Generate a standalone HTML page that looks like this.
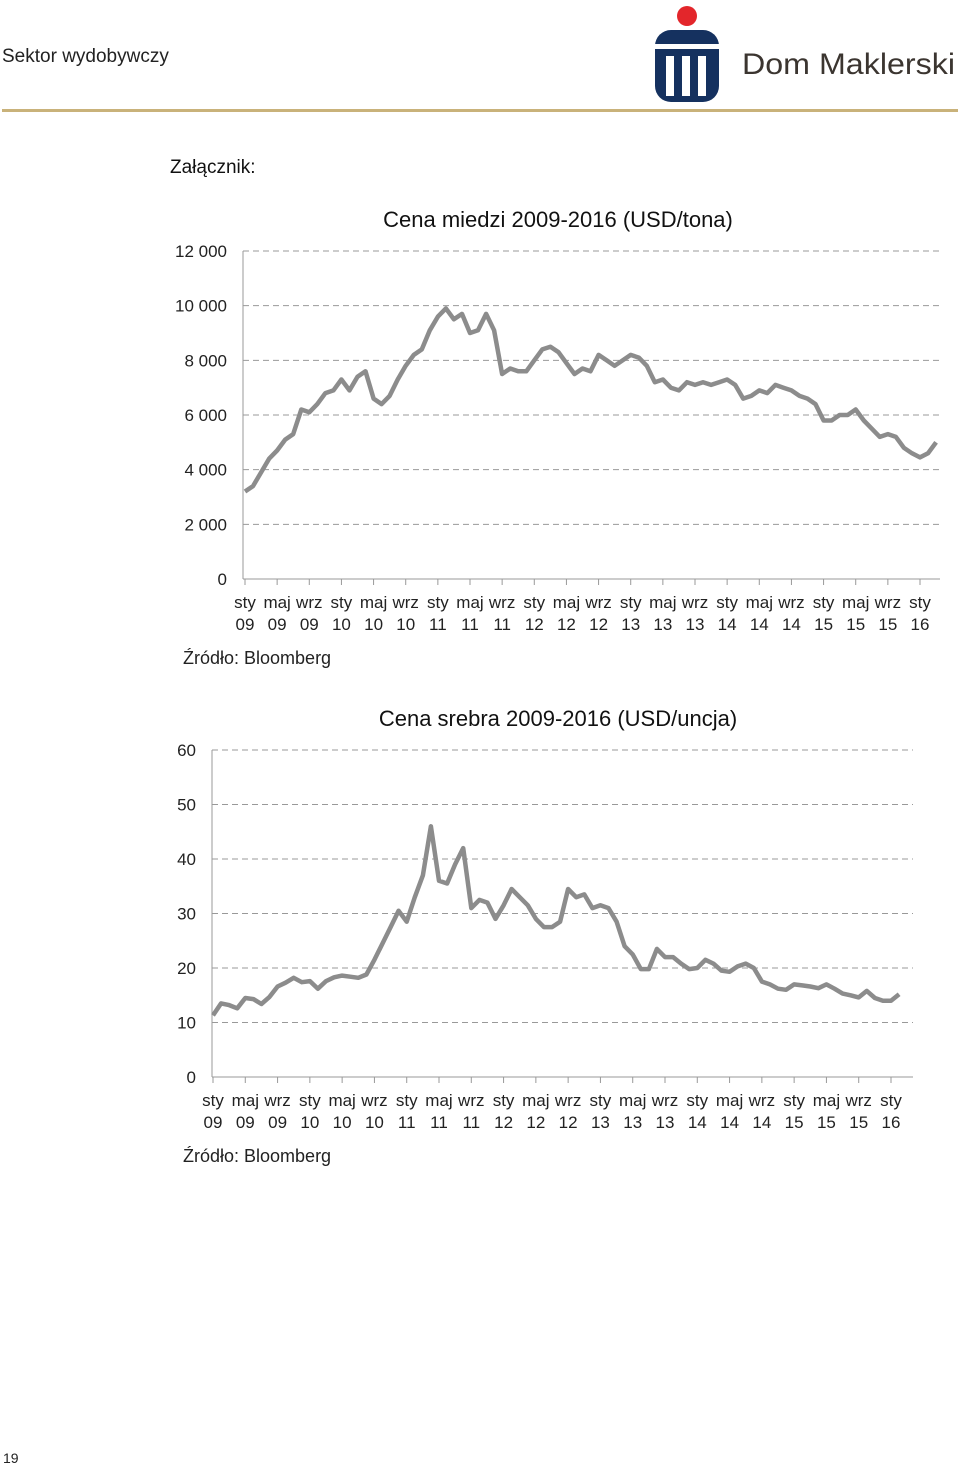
<!DOCTYPE html>
<html><head><meta charset="utf-8">
<style>
body{margin:0;background:#fff;font-family:"Liberation Sans",sans-serif;}
#page{position:relative;width:960px;height:1466px;overflow:hidden;background:#fff;}
svg text{font-family:"Liberation Sans",sans-serif;}
</style></head>
<body>
<div id="page">
<div style="position:absolute;left:2px;top:46px;font-size:19px;color:#222;">Sektor wydobywczy</div>
<svg style="position:absolute;left:640px;top:0" width="320" height="108">
 <circle cx="47" cy="16" r="10" fill="#e3262b"/>
 <rect x="15" y="30" width="64" height="72" rx="16" fill="#15315f"/>
 <rect x="15" y="44" width="64" height="5" fill="#fff"/>
 <rect x="26" y="56" width="8" height="40" fill="#fff"/>
 <rect x="42" y="56" width="8" height="40" fill="#fff"/>
 <rect x="58" y="56" width="8" height="40" fill="#fff"/>
 <text x="102" y="74" font-size="30" fill="#3b3530" textLength="213" lengthAdjust="spacingAndGlyphs">Dom Maklerski</text>
</svg>
<div style="position:absolute;left:2px;top:109px;width:956px;height:3px;background:#c9b27a;"></div>
<div style="position:absolute;left:170px;top:157px;font-size:19px;color:#111;">Załącznik:</div>
<svg id="c1" style="position:absolute;left:0;top:190px" width="960" height="490"></svg>
<svg id="c2" style="position:absolute;left:0;top:690px" width="960" height="490"></svg>
<div style="position:absolute;left:3px;top:1450px;font-size:14px;color:#222;">19</div>
</div>
<script>
const xMonthLabels=["sty","maj","wrz","sty","maj","wrz","sty","maj","wrz","sty","maj","wrz","sty","maj","wrz","sty","maj","wrz","sty","maj","wrz","sty"];
const xYearLabels=["09","09","09","10","10","10","11","11","11","12","12","12","13","13","13","14","14","14","15","15","15","16"];
const copperTicks=[0,2000,4000,6000,8000,10000,12000];
const copperTickLabels=["0","2 000","4 000","6 000","8 000","10 000","12 000"];
const copperValues=[3200,3400,3900,4400,4700,5100,5300,6200,6100,6400,6800,6900,
7300,6900,7400,7600,6600,6400,6700,7300,7800,8200,8400,9100,
9600,9900,9500,9700,9000,9100,9700,9100,7500,7700,7600,7600,
8000,8400,8500,8300,7900,7500,7700,7600,8200,8000,7800,8000,
8200,8100,7800,7200,7300,7000,6900,7200,7100,7200,7100,7200,
7300,7100,6600,6700,6900,6800,7100,7000,6900,6700,6600,6400,
5800,5800,6000,6000,6200,5800,5500,5200,5300,5200,4800,4600,
4450,4600,5000];
const silverTicks=[0,10,20,30,40,50,60];
const silverTickLabels=["0","10","20","30","40","50","60"];
const silverValues=[11.3,13.5,13.2,12.6,14.5,14.3,13.4,14.7,16.6,17.3,18.2,17.4,
17.6,16.2,17.6,18.3,18.6,18.4,18.2,18.8,21.5,24.5,27.5,30.5,
28.5,33,37,46,36,35.5,39,42,31,32.5,32,29,
31.5,34.5,33,31.5,29,27.5,27.5,28.5,34.5,33,33.5,31,
31.5,31,28.5,24,22.5,19.8,19.8,23.5,22,22,20.8,19.8,
20,21.5,20.8,19.5,19.3,20.3,20.8,20,17.5,17,16.2,16,
17,16.8,16.6,16.3,17,16.2,15.3,15,14.6,15.8,14.5,14,
14,15.2];
const NS='http://www.w3.org/2000/svg';
function mk(svg,tag,attrs,text){const e=document.createElementNS(NS,tag);for(const k in attrs)e.setAttribute(k,attrs[k]);if(text!==undefined)e.textContent=text;svg.appendChild(e);return e;}
function draw(svg,o){
 const x=m=>o.x0+m*(o.x1-o.x0)/84;
 const y=v=>o.y0-v*(o.y0-o.yTop)/o.vmax;
 let t=mk(svg,'text',{x:o.titleX,y:o.titleY,'font-size':22,fill:'#111','text-anchor':'middle'},o.title);
 
 o.ticks.forEach((v,i)=>{
  if(v>0){const g=mk(svg,'line',{x1:o.ax,x2:o.gx,y1:y(v),y2:y(v),stroke:'#999','stroke-dasharray':'6,4','stroke-width':1});
  }
  const l=mk(svg,'text',{x:o.ax-16,y:y(v)+6,'font-size':17,fill:'#222','text-anchor':'end'},o.labels[i]);
  
 });
 let a=mk(svg,'line',{x1:o.ax,x2:o.ax,y1:y(o.vmax),y2:o.y0,stroke:'#999'});
 
 a=mk(svg,'line',{x1:o.ax,x2:o.gx,y1:o.y0,y2:o.y0,stroke:'#999'});
 
 xMonthLabels.forEach((m,i)=>{
  const xx=x(i*4);
  const tk=mk(svg,'line',{x1:xx,x2:xx,y1:o.y0,y2:o.y0+6,stroke:'#999'});
  
  const l=mk(svg,'text',{x:xx,y:o.y0+29,'font-size':17,fill:'#222','text-anchor':'middle'},m);
  
  const l2=mk(svg,'text',{x:xx,y:o.y0+51,'font-size':17,fill:'#222','text-anchor':'middle'},xYearLabels[i]);
  
 });
 const pts=o.data.map((v,i)=>x(i).toFixed(1)+','+y(v).toFixed(1)).join(' ');
 const p=mk(svg,'polyline',{points:pts,fill:'none',stroke:'#8c8c8c','stroke-width':4.5,'stroke-linejoin':'round'});
 
 const s=mk(svg,'text',{x:183,y:o.y0+85,'font-size':18,fill:'#222'},'Źródło: Bloomberg');
 
}
draw(document.getElementById('c1'),{x0:245,x1:920,y0:389,yTop:61,vmax:12000,ax:243,gx:940,ticks:copperTicks,labels:copperTickLabels,data:copperValues,title:'Cena miedzi 2009-2016 (USD/tona)',titleX:558,titleY:37});
draw(document.getElementById('c2'),{x0:213,x1:891,y0:387,yTop:60,vmax:60,ax:212,gx:913,ticks:silverTicks,labels:silverTickLabels,data:silverValues,title:'Cena srebra 2009-2016 (USD/uncja)',titleX:558,titleY:36});
</script>
</body></html>
